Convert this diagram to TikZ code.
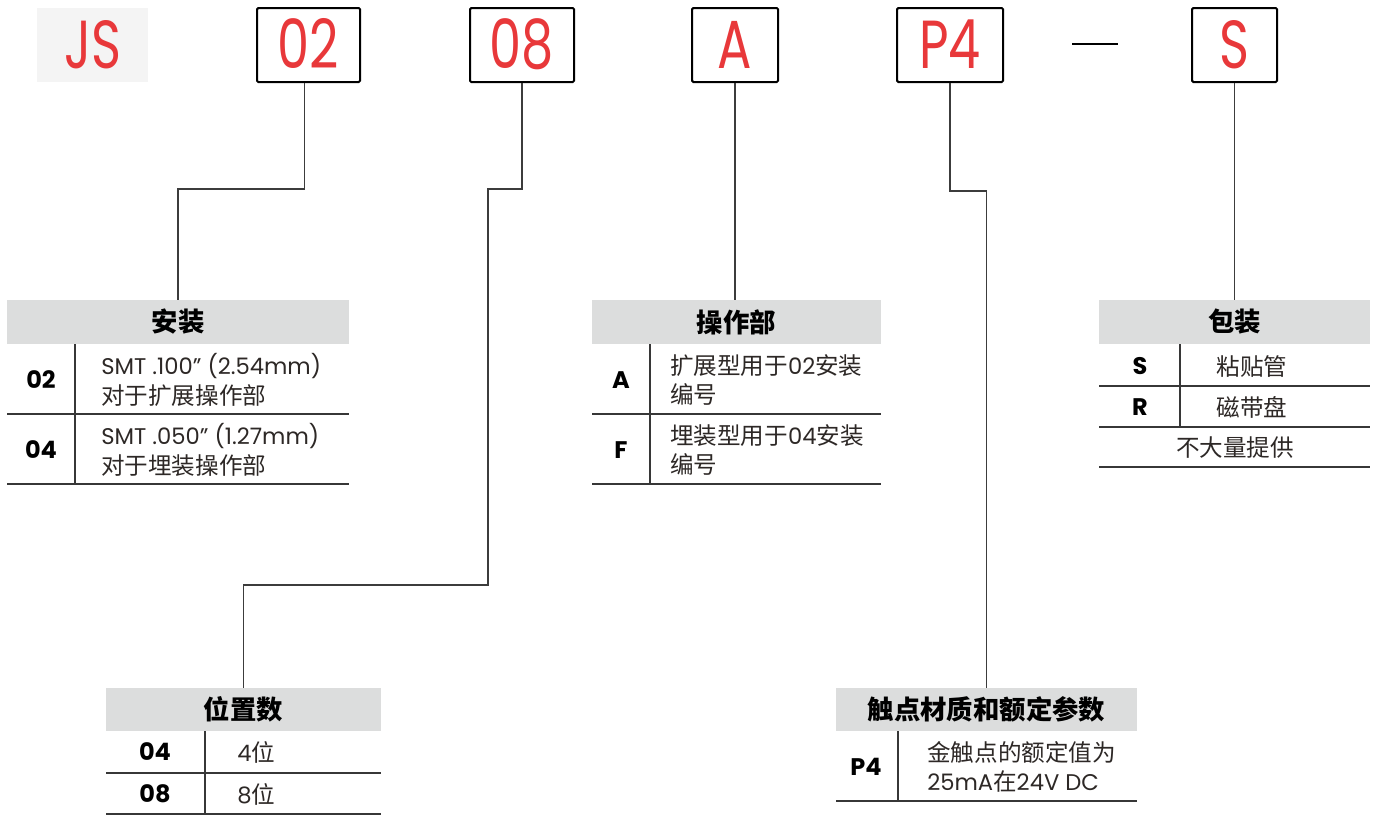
\documentclass[tikz,border=0pt]{standalone}
\usepackage{fontspec}
\setmainfont{Poppins}
\newfontfamily\cjk{Noto Sans CJK SC}[Scale=1.04]
\newfontfamily\redfont{Poppins}[FakeStretch=0.75]
\definecolor{jsred}{RGB}{232,56,58}
\definecolor{hdrgray}{RGB}{220,221,221}
\definecolor{jsbg}{RGB}{244,244,244}
\definecolor{rulegray}{RGB}{55,55,55}
\definecolor{linegray}{RGB}{60,60,60}
\definecolor{txtgray}{RGB}{45,40,38}
\tikzset{
  topbox/.style={draw=black, line width=1.5pt, rounded corners=1pt, inner sep=0pt,
    minimum height=55.5pt, text=jsred, font=\redfont\fontsize{51}{51}\selectfont,
    text height=35pt, text depth=0pt},
  conn/.style={draw=linegray, line width=0.8pt},
  hdr/.style={fill=hdrgray, inner sep=0pt, minimum height=33pt,
    font=\cjk\bfseries\fontsize{19}{19}\selectfont, text=black},
  tabrule/.style={line width=1.1pt, draw=rulegray},
  codelbl/.style={font=\bfseries\fontsize{18}{18}\selectfont, text=black, inner sep=0pt},
  desc/.style={font=\fontsize{17}{22}\selectfont, text=txtgray, align=left, anchor=west, inner sep=0pt},
  cdesc/.style={font=\fontsize{17}{22}\selectfont, text=txtgray, inner sep=0pt}
}
\begin{document}
\begin{tikzpicture}[x=0.75pt,y=-0.75pt]
\useasboundingbox (0,0) rectangle (1373,815);
% top code boxes
\node[fill=jsbg, minimum width=83.25pt, minimum height=55.5pt, inner sep=0pt,
  text=jsred, font=\redfont\fontsize{51}{51}\selectfont, text height=35pt, text depth=0pt] (bJS) at (92.5,45) {JS};
\node[topbox, minimum width=77.25pt] (b02) at (308.5,45) {02};
\node[topbox, minimum width=78pt] (b08) at (522,45) {08};
\node[topbox, minimum width=64.5pt] (bA) at (735,45) {A};
\node[topbox, minimum width=79.5pt] (bP4) at (950,45) {P4};
\node[topbox, minimum width=63.75pt] (bS) at (1234.5,45) {S};
\coordinate (d1) at (1072,44);
\coordinate (d2) at (1118,44);
\draw[line width=1.5pt, black] (d1) -- (d2);

% table 1: mounting
\node[hdr, minimum width=256.5pt] (t1h) at (178,322) {安装};
\draw[tabrule] (7,414) -- (349,414);
\draw[tabrule] (7,484) -- (349,484);
\draw[tabrule] (75,344) -- (75,484);
\node[codelbl] (c02) at (41,380) {02};
\node[codelbl] (c04) at (41,450) {04};
\node[desc] (d02) at (101,380) {SMT .100" (2.54mm)\\{\cjk 对于扩展操作部}};
\node[desc] (d04) at (101,450) {SMT .050" (1.27mm)\\{\cjk 对于埋装操作部}};

% table 2: actuator
\node[hdr, minimum width=216.75pt] (t2h) at (736.5,322) {操作部};
\draw[tabrule] (592,414) -- (881,414);
\draw[tabrule] (592,484) -- (881,484);
\draw[tabrule] (650,344) -- (650,484);
\node[codelbl] (cA) at (621,380) {A};
\node[codelbl] (cF) at (621,450) {F};
\node[desc] (dA) at (670,380) {{\cjk 扩展型用于}02{\cjk 安装}\\{\cjk 编号}};
\node[desc] (dF) at (670,450) {{\cjk 埋装型用于}04{\cjk 安装}\\{\cjk 编号}};

% table 3: packaging
\node[hdr, minimum width=203.25pt] (t3h) at (1234.5,322) {包装};
\draw[tabrule] (1099,386) -- (1370,386);
\draw[tabrule] (1099,427) -- (1370,427);
\draw[tabrule] (1099,467) -- (1370,467);
\draw[tabrule] (1180,344) -- (1180,427);
\node[codelbl] (cS) at (1140,366) {S};
\node[codelbl] (cR) at (1140,407) {R};
\node[cdesc] (dS) at (1252,366) {\cjk 粘贴管};
\node[cdesc] (dR) at (1252,407) {\cjk 磁带盘};
\node[cdesc] (dN) at (1235,448) {\cjk 不大量提供};

% table 4: positions
\node[hdr, minimum width=206.25pt, minimum height=32.25pt] (t4h) at (243.5,709.5) {位置数};
\draw[tabrule] (106,773) -- (381,773);
\draw[tabrule] (106,814) -- (381,814);
\draw[tabrule] (205,731) -- (205,814);
\node[codelbl] (p04) at (155,752) {04};
\node[codelbl] (p08) at (155,794) {08};
\node[desc] (q04) at (237,752) {4{\cjk 位}};
\node[desc] (q08) at (237,794) {8{\cjk 位}};

% table 5: contact material
\node[hdr, minimum width=225.75pt, minimum height=32.25pt] (t5h) at (986.5,709.5) {触点材质和额定参数};
\draw[tabrule] (836,801) -- (1137,801);
\draw[tabrule] (898,731) -- (898,801);
\node[codelbl] (cP4) at (866,767) {P4};
\node[desc] (dP4) at (927,767) {{\cjk 金触点的额定值为}\\25mA{\cjk 在}24V DC};

% connectors
\coordinate (k08) at (488,585);
\draw[conn] (b02.south) ++(-4,0) -- ++(0,106) -| (t1h.north);
\draw[conn] (b08.south) -- ++(0,106) -| (k08) -| (t4h.north);
\draw[conn] (bA.south) -- (bA.south |- t2h.north);
\draw[conn] (bP4.south) -- ++(0,108) -| (t5h.north);
\draw[conn] (bS.south) -- (bS.south |- t3h.north);
\end{tikzpicture}
\end{document}
